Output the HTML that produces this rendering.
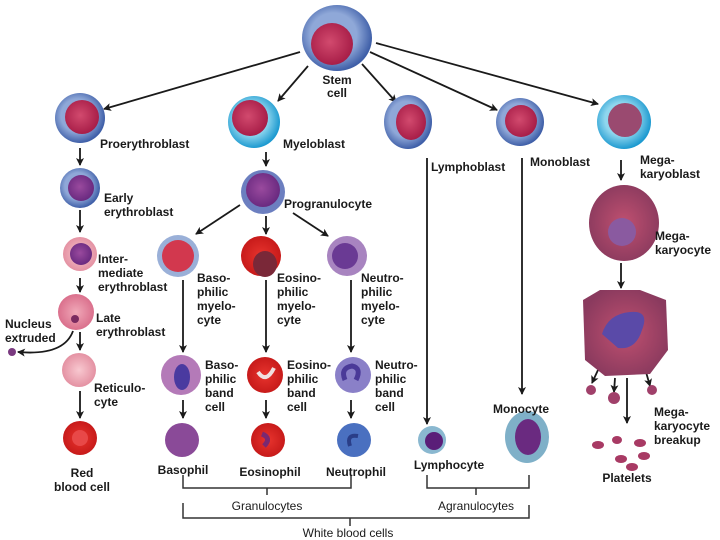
<!DOCTYPE html>
<html><head><meta charset="utf-8"><style>
html,body{margin:0;padding:0;background:#fff}
svg{display:block}
text{font-family:"Liberation Sans",sans-serif;font-weight:bold;font-size:12px;fill:#1a1a1a}
</style></head><body>
<svg width="720" height="540" viewBox="0 0 720 540" xmlns="http://www.w3.org/2000/svg">
<defs>
<radialGradient id="blue" cx="45%" cy="45%" r="55%"><stop offset="0.6" stop-color="#8fa8d8"/><stop offset="1" stop-color="#3f5fa8"/></radialGradient>
<radialGradient id="cyan" cx="45%" cy="45%" r="55%"><stop offset="0.55" stop-color="#8fd6ee"/><stop offset="1" stop-color="#1d9ad0"/></radialGradient>
<radialGradient id="nuc" cx="45%" cy="45%" r="55%"><stop offset="0" stop-color="#d24a6e"/><stop offset="1" stop-color="#a81e48"/></radialGradient>
<radialGradient id="purp" cx="45%" cy="45%" r="55%"><stop offset="0" stop-color="#9a4a9e"/><stop offset="1" stop-color="#6a2a80"/></radialGradient>
<radialGradient id="pink" cx="50%" cy="50%" r="55%"><stop offset="0" stop-color="#f0a8b8"/><stop offset="1" stop-color="#d86a88"/></radialGradient>
<radialGradient id="lpink" cx="50%" cy="50%" r="55%"><stop offset="0" stop-color="#f8c8d0"/><stop offset="1" stop-color="#e28c9e"/></radialGradient>
<radialGradient id="red" cx="50%" cy="50%" r="55%"><stop offset="0" stop-color="#e8342e"/><stop offset="1" stop-color="#c41818"/></radialGradient>
<radialGradient id="mk" cx="50%" cy="50%" r="55%"><stop offset="0" stop-color="#c05070"/><stop offset="1" stop-color="#8a3a5e"/></radialGradient>
<marker id="ah" markerWidth="8" markerHeight="8" refX="7" refY="4" orient="auto" markerUnits="userSpaceOnUse"><path d="M0,0 L8,4 L0,8 L2,4 z" fill="#1a1a1a"/></marker>
</defs>
<g stroke="#1a1a1a" stroke-width="1.8" fill="none" marker-end="url(#ah)">
<line x1="300" y1="52" x2="104" y2="109"/>
<line x1="308" y1="66" x2="278" y2="101"/>
<line x1="362" y1="64" x2="396" y2="102"/>
<line x1="370" y1="52" x2="497" y2="110"/>
<line x1="376" y1="43" x2="598" y2="104"/>
<line x1="80" y1="148" x2="80" y2="165"/>
<line x1="80" y1="210" x2="80" y2="232"/>
<line x1="80" y1="278" x2="80" y2="292"/>
<line x1="80" y1="332" x2="80" y2="350"/>
<line x1="80" y1="391" x2="80" y2="418"/>
<line x1="266" y1="152" x2="266" y2="166"/>
<line x1="240" y1="205" x2="196" y2="234"/>
<line x1="266" y1="216" x2="266" y2="234"/>
<line x1="293" y1="213" x2="328" y2="236"/>
<line x1="183" y1="280" x2="183" y2="352"/>
<line x1="266" y1="280" x2="266" y2="352"/>
<line x1="351" y1="280" x2="351" y2="352"/>
<line x1="183" y1="400" x2="183" y2="418"/>
<line x1="266" y1="400" x2="266" y2="418"/>
<line x1="351" y1="400" x2="351" y2="418"/>
<line x1="427" y1="158" x2="427" y2="424"/>
<line x1="522" y1="158" x2="522" y2="394"/>
<line x1="621" y1="160" x2="621" y2="180"/>
<line x1="621" y1="263" x2="621" y2="288"/>
<line x1="627" y1="378" x2="627" y2="423"/>
<line x1="598" y1="370" x2="592" y2="383"/>
<line x1="615" y1="378" x2="614" y2="392"/>
<line x1="646" y1="372" x2="650" y2="386"/>
<path d="M73,331 Q64,356 18,352"/>
</g>
<g stroke="#333" stroke-width="1.5" fill="none">
<path d="M183,475 V488 H351 V475"/><line x1="267" y1="488" x2="267" y2="495"/>
<path d="M427,475 V488 H529 V475"/><line x1="476" y1="488" x2="476" y2="495"/>
<path d="M183,503 V518 H529 V505"/><line x1="350" y1="518" x2="350" y2="526"/>
</g>
<ellipse cx="337" cy="38" rx="35" ry="33" fill="url(#blue)"/>
<circle cx="332" cy="44" r="21" fill="url(#nuc)"/>
<circle cx="80" cy="118" r="25" fill="url(#blue)"/><circle cx="82" cy="117" r="17" fill="url(#nuc)"/>
<circle cx="254" cy="122" r="26" fill="url(#cyan)"/><circle cx="250" cy="118" r="18" fill="url(#nuc)"/>
<ellipse cx="408" cy="122" rx="24" ry="27" fill="url(#blue)"/><ellipse cx="411" cy="122" rx="15" ry="18" fill="url(#nuc)"/>
<circle cx="520" cy="122" r="24" fill="url(#blue)"/><circle cx="521" cy="121" r="16" fill="url(#nuc)"/>
<circle cx="624" cy="122" r="27" fill="url(#cyan)"/><circle cx="625" cy="120" r="17" fill="#9a4a70"/>
<circle cx="80" cy="188" r="20" fill="url(#blue)"/><circle cx="81" cy="188" r="13" fill="url(#purp)"/>
<circle cx="263" cy="192" r="22" fill="#6c7fc0"/><circle cx="263" cy="190" r="17" fill="url(#purp)"/>
<circle cx="80" cy="254" r="17" fill="url(#lpink)"/><circle cx="81" cy="254" r="11" fill="url(#purp)"/>
<circle cx="178" cy="256" r="21" fill="#9ab0d8"/><circle cx="178" cy="256" r="16" fill="#d2384e"/>
<circle cx="261" cy="256" r="20" fill="url(#red)"/><ellipse cx="265" cy="264" rx="12" ry="13" fill="#7a2838"/>
<circle cx="347" cy="256" r="20" fill="#a884c0"/><circle cx="345" cy="256" r="13" fill="#6a3a94"/>
<circle cx="76" cy="312" r="18" fill="url(#pink)"/><circle cx="75" cy="319" r="4" fill="#7a2a60"/>
<circle cx="12" cy="352" r="4" fill="#7a3a80"/>
<circle cx="79" cy="370" r="17" fill="url(#lpink)"/>
<circle cx="80" cy="438" r="17" fill="url(#red)"/><circle cx="80" cy="438" r="8" fill="#e84848"/>
<circle cx="181" cy="375" r="20" fill="#b47ab8"/><ellipse cx="182" cy="377" rx="8" ry="13" fill="#4a3aa0"/>
<circle cx="265" cy="375" r="18" fill="url(#red)"/><path d="M258,372 Q266,384 274,368" stroke="#f0e0e0" stroke-width="4" fill="none"/>
<circle cx="353" cy="375" r="18" fill="#8a80c8"/><path d="M345,380 Q340,368 352,366 Q362,368 356,380" stroke="#4a3a98" stroke-width="5" fill="none"/>
<circle cx="182" cy="440" r="17" fill="#8a4a98"/>
<circle cx="268" cy="440" r="17" fill="url(#red)"/><path d="M262,434 Q272,438 264,446" stroke="#7a2870" stroke-width="5" fill="none"/>
<circle cx="354" cy="440" r="17" fill="#4a70c0"/><path d="M350,446 Q346,434 358,436" stroke="#2a3e88" stroke-width="4" fill="none"/>
<circle cx="432" cy="440" r="14" fill="#8ab8d0"/><circle cx="434" cy="441" r="9" fill="#5a1e78"/>
<ellipse cx="527" cy="437" rx="22" ry="26" fill="#7fb0c8"/><ellipse cx="528" cy="437" rx="13" ry="18" fill="#6a2a80"/>
<ellipse cx="624" cy="223" rx="35" ry="38" fill="url(#mk)"/><circle cx="622" cy="232" r="14" fill="#8a5aa0"/>
<path d="M583,300 L600,290 L640,290 L666,300 L668,350 L650,374 L605,376 L585,360 Z" fill="url(#mk)"/>
<path d="M602,334 Q608,314 630,312 Q650,310 642,330 Q636,350 618,348 Z" fill="#5a4aa8"/>
<circle cx="591" cy="390" r="5" fill="#a0406a"/><circle cx="614" cy="398" r="6" fill="#a0406a"/><circle cx="652" cy="390" r="5" fill="#a0406a"/>
<g fill="#a83a64">
<ellipse cx="598" cy="445" rx="6" ry="4"/><ellipse cx="617" cy="440" rx="5" ry="4"/><ellipse cx="640" cy="443" rx="6" ry="4"/>
<ellipse cx="621" cy="459" rx="6" ry="4"/><ellipse cx="644" cy="456" rx="6" ry="4"/><ellipse cx="632" cy="467" rx="6" ry="4"/>
</g>
<text x="337" y="84" text-anchor="middle">Stem</text><text x="337" y="97" text-anchor="middle">cell</text>
<text x="100" y="148">Proerythroblast</text>
<text x="283" y="148">Myeloblast</text>
<text x="431" y="171">Lymphoblast</text>
<text x="530" y="166">Monoblast</text>
<text x="640" y="164">Mega-</text><text x="640" y="178">karyoblast</text>
<text x="104" y="202">Early</text><text x="104" y="216">erythroblast</text>
<text x="284" y="208">Progranulocyte</text>
<text x="98" y="263">Inter-</text><text x="98" y="277">mediate</text><text x="98" y="291">erythroblast</text>
<text x="197" y="282">Baso-</text><text x="197" y="296">philic</text><text x="197" y="310">myelo-</text><text x="197" y="324">cyte</text>
<text x="277" y="282">Eosino-</text><text x="277" y="296">philic</text><text x="277" y="310">myelo-</text><text x="277" y="324">cyte</text>
<text x="361" y="282">Neutro-</text><text x="361" y="296">philic</text><text x="361" y="310">myelo-</text><text x="361" y="324">cyte</text>
<text x="96" y="322">Late</text><text x="96" y="336">erythroblast</text>
<text x="5" y="328">Nucleus</text><text x="5" y="342">extruded</text>
<text x="94" y="392">Reticulo-</text><text x="94" y="406">cyte</text>
<text x="205" y="369">Baso-</text><text x="205" y="383">philic</text><text x="205" y="397">band</text><text x="205" y="411">cell</text>
<text x="287" y="369">Eosino-</text><text x="287" y="383">philic</text><text x="287" y="397">band</text><text x="287" y="411">cell</text>
<text x="375" y="369">Neutro-</text><text x="375" y="383">philic</text><text x="375" y="397">band</text><text x="375" y="411">cell</text>
<text x="493" y="413">Monocyte</text>
<text x="655" y="240">Mega-</text><text x="655" y="254">karyocyte</text>
<text x="654" y="416">Mega-</text><text x="654" y="430">karyocyte</text><text x="654" y="444">breakup</text>
<text x="82" y="477" text-anchor="middle">Red</text><text x="82" y="491" text-anchor="middle">blood cell</text>
<text x="183" y="474" text-anchor="middle">Basophil</text>
<text x="270" y="476" text-anchor="middle">Eosinophil</text>
<text x="356" y="476" text-anchor="middle">Neutrophil</text>
<text x="449" y="469" text-anchor="middle">Lymphocyte</text>
<text x="627" y="482" text-anchor="middle">Platelets</text>
<text x="267" y="510" text-anchor="middle" style="font-weight:normal">Granulocytes</text>
<text x="476" y="510" text-anchor="middle" style="font-weight:normal">Agranulocytes</text>
<text x="348" y="537" text-anchor="middle" style="font-weight:normal">White blood cells</text>
</svg>
</body></html>
